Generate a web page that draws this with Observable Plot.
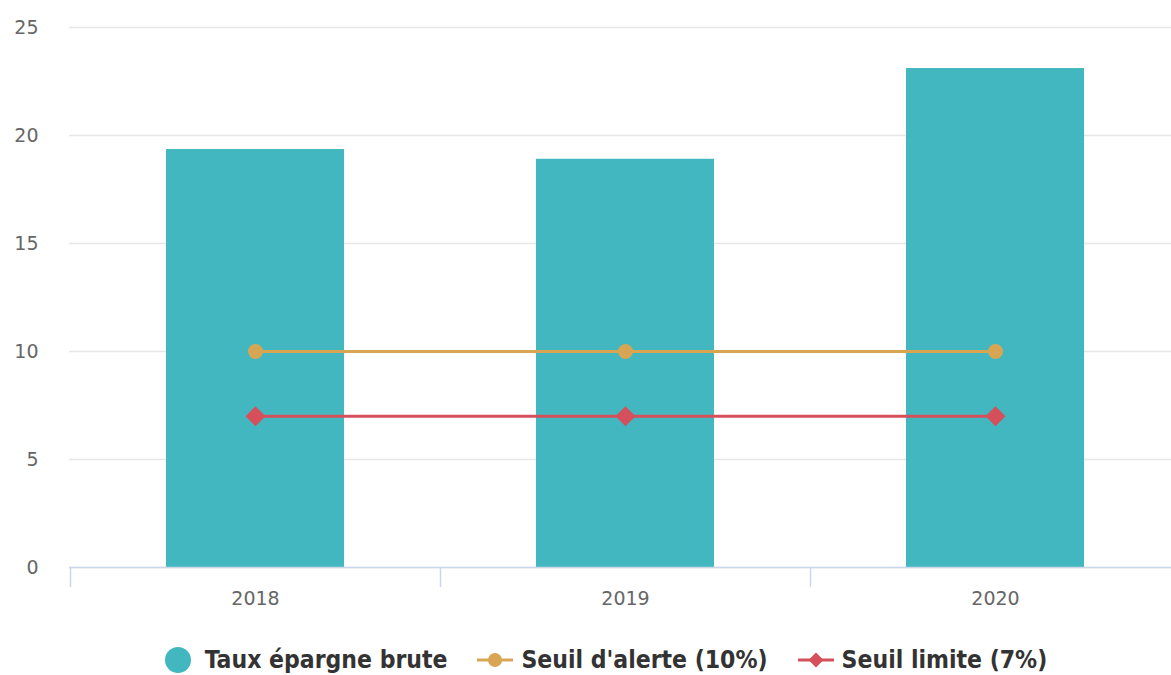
<!DOCTYPE html>
<html>
<head>
<meta charset="utf-8">
<script src="https://cdn.jsdelivr.net/npm/d3@7"></script>
<script src="https://cdn.jsdelivr.net/npm/@observablehq/plot@0.6"></script>
<style>
  html, body { margin: 0; padding: 0; background: #fff; }
  body { width: 1171px; height: 675px; overflow: hidden; font-family: "DejaVu Sans", sans-serif; }
  #legend { position: absolute; top: 645px; left: 20px; width: 1171px; display: flex; justify-content: center; align-items: center; font-family: "DejaVu Sans Condensed", "DejaVu Sans", sans-serif; font-weight: 700; font-size: 24.5px; color: #333; }
  #legend .item { display: flex; align-items: center; margin: 0 15px; }
  #legend svg { margin-right: 8px; }
  #legend .item:first-child svg { margin-right: 13px; }
</style>
</head>
<body>
<div id="chart"></div>
<div id="legend"></div>
<script>
const years = ["2018", "2019", "2020"];
const tauxEpargne = [19.35, 18.9, 23.1];
const seuilAlerte = [10, 10, 10];
const seuilLimite = [7, 7, 7];
const yTicks = [0, 5, 10, 15, 20, 25];
const seriesNames = ["Taux épargne brute", "Seuil d'alerte (10%)", "Seuil limite (7%)"];
const colors = {bar: "#42b7bf", alerte: "#d8a652", limite: "#d5505a"};

const bars = years.map((y, i) => ({year: y, value: tauxEpargne[i]}));
const alerte = years.map((y, i) => ({year: y, value: seuilAlerte[i]}));
const limite = years.map((y, i) => ({year: y, value: seuilLimite[i]}));

const halfStep = 185;
const chart = Plot.plot({
  width: 1171,
  height: 640,
  marginTop: 27,
  marginBottom: 73,
  marginLeft: 69,
  marginRight: -9,
  style: {fontFamily: "'DejaVu Sans', sans-serif", fontSize: "19px", color: "#666", background: "#fff", overflow: "visible"},
  x: {domain: years, paddingInner: 0.52, paddingOuter: 0.26, label: null},
  y: {domain: [0, 25], label: null},
  marks: [
    Plot.gridY(yTicks, {stroke: "#e6e6e6", strokeOpacity: 1, strokeWidth: 1.5}),
    Plot.axisY(yTicks, {tickSize: 0, tickPadding: 31, fill: "#666", fontSize: 19, label: null}),
    Plot.barY(bars, {x: "year", y: "value", fill: colors.bar}),
    Plot.ruleY([0], {stroke: "#ccd6eb", strokeWidth: 1.5}),
    Plot.axisX({tickSize: 20, dx: -halfStep, stroke: "#ccd6eb", strokeWidth: 1.5, text: null, label: null}),
    Plot.axisX({tickSize: 0, tickPadding: 24, fill: "#666", fontSize: 19, label: null, style: {letterSpacing: "1px"}}),
    Plot.line(alerte, {x: "year", y: "value", stroke: colors.alerte, strokeWidth: 3}),
    Plot.dot(alerte, {x: "year", y: "value", fill: colors.alerte, r: 7.5, symbol: "circle"}),
    Plot.line(limite, {x: "year", y: "value", stroke: colors.limite, strokeWidth: 3}),
    Plot.dot(limite, {x: "year", y: "value", fill: colors.limite, stroke: "none", r: 9, symbol: "diamond2"})
  ]
});
document.getElementById("chart").appendChild(chart);

const legend = document.getElementById("legend");
const symbols = [
  `<svg width="28" height="28"><circle cx="14" cy="14" r="13" fill="${colors.bar}"/></svg>`,
  `<svg width="36" height="20"><line x1="0" x2="36" y1="10" y2="10" stroke="${colors.alerte}" stroke-width="3"/><circle cx="18" cy="10" r="7" fill="${colors.alerte}"/></svg>`,
  `<svg width="36" height="20"><line x1="0" x2="36" y1="10" y2="10" stroke="${colors.limite}" stroke-width="3"/><path d="M18 2.5 L25.5 10 L18 17.5 L10.5 10 Z" fill="${colors.limite}"/></svg>`
];
seriesNames.forEach((name, i) => {
  const el = document.createElement("div");
  el.className = "item";
  el.innerHTML = symbols[i] + `<span>${name}</span>`;
  legend.appendChild(el);
});
</script>
</body>
</html>
